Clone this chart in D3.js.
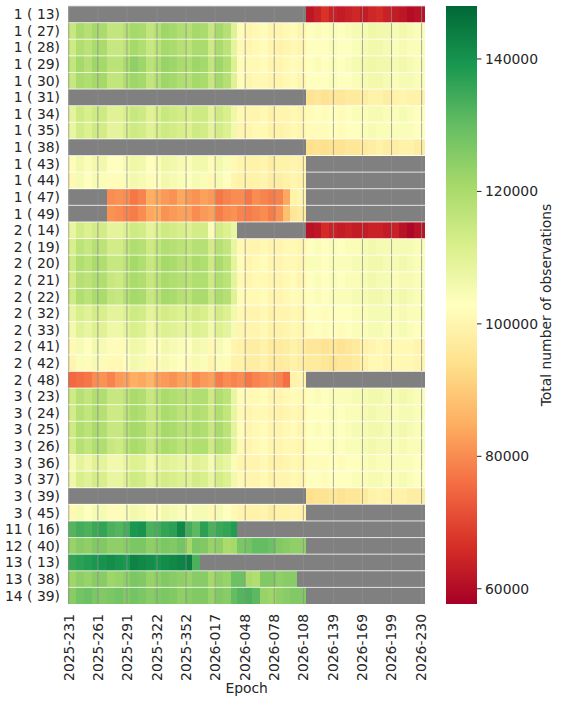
<!DOCTYPE html>
<html><head><meta charset="utf-8">
<script src="https://cdn.jsdelivr.net/npm/d3@7"></script>
<style>
body{margin:0;background:#fff;}
text{font-family:"DejaVu Sans",sans-serif;fill:#262626;}
</style>
</head><body>
<svg id="chart" width="562" height="703"></svg>
<script>
const _ = null;
const rowLabels = ["1 ( 13)","1 ( 27)","1 ( 28)","1 ( 29)","1 ( 30)","1 ( 31)","1 ( 34)","1 ( 35)","1 ( 38)","1 ( 43)","1 ( 44)","1 ( 47)","1 ( 49)",
  "2 ( 14)","2 ( 19)","2 ( 20)","2 ( 21)","2 ( 22)","2 ( 32)","2 ( 33)","2 ( 41)","2 ( 42)","2 ( 48)",
  "3 ( 23)","3 ( 24)","3 ( 25)","3 ( 26)","3 ( 36)","3 ( 37)","3 ( 39)","3 ( 45)",
  "11 ( 16)","12 ( 40)","13 ( 13)","13 ( 38)","14 ( 39)"];
const firstEpoch = "2025-231";
const totalDays = 368;
// bin edges in days after the first epoch
const binEdges = [0,8,16,24,32,40,48,56,64,72,80,88,96,104,112,120,128,136,144,152,160,168,174,182,190,198,206,214,222,229,236,245,253,261,269,277,285,293,301,309,317,325,333,341,349,357,368];
const xTickLabels = ["2025-231","2025-261","2025-291","2025-322","2025-352","2026-017","2026-048","2026-078","2026-108","2026-139","2026-169","2026-199","2026-230"];
const colorTicks = [60000,80000,100000,120000,140000];
const colorMin = 57700, colorMax = 148000;
// total number of observations per bin, in thousands (null = no data)
const obsThousands = [
 [_,_,_,_,_,_,_,_,_,_,_,_,_,_,_,_,_,_,_,_,_,_, _,_,_,_,_,_,_,_,_, 62,64,67,64,63,64,65,63,65,66,64,63,62,60,61],
 [115,120,118,121,120,116,116,118,121,120,116,118,122,121,119,118,121,120,115,121,118,110, 102,100,101,102,100,100,101,102,100, 103,104,103,104,103,104,105,105,107,106,106,105,106,105,104],
 [114,119,117,120,120,115,115,117,121,119,115,117,121,120,118,117,120,120,114,120,117,109, 101,100,101,102,100,99,100,101,100, 103,103,103,104,103,103,104,105,106,106,105,104,105,104,104],
 [116,121,118,122,121,117,117,120,124,122,117,119,123,122,120,119,122,121,116,122,119,111, 102,101,101,102,100,100,101,102,101, 103,104,103,104,103,104,105,106,107,106,106,105,106,105,104],
 [115,120,119,121,121,116,116,119,122,121,116,118,122,121,119,118,121,120,115,121,118,110, 102,100,101,101,100,100,101,102,100, 103,103,103,104,103,103,104,105,106,106,105,104,105,105,104],
 [_,_,_,_,_,_,_,_,_,_,_,_,_,_,_,_,_,_,_,_,_,_, _,_,_,_,_,_,_,_,_, 95,96,95,96,96,97,97,98,99,99,98,99,100,99,99],
 [109,114,112,114,114,110,110,112,115,114,110,112,115,114,113,112,114,114,109,114,112,107, 101,100,100,101,99,100,100,101,100, 102,103,102,103,102,103,104,104,105,105,104,104,105,104,103],
 [108,113,111,114,113,109,109,112,114,113,110,112,114,113,112,111,114,113,109,113,111,106, 100,100,101,101,99,99,100,101,100, 102,102,102,103,102,103,103,104,105,104,104,104,104,104,103],
 [_,_,_,_,_,_,_,_,_,_,_,_,_,_,_,_,_,_,_,_,_,_, _,_,_,_,_,_,_,_,_, 94,95,94,95,95,96,96,97,98,99,98,98,99,99,98],
 [102,106,104,106,106,103,103,105,107,106,103,104,107,106,105,104,106,106,102,106,104,101, 100,99,99,100,98,99,99,100,99, _,_,_,_,_,_,_,_,_,_,_,_,_,_,_],
 [101,105,103,105,104,102,102,104,106,105,102,103,106,105,104,103,105,104,101,105,103,100, 99,99,99,100,98,98,99,100,99, _,_,_,_,_,_,_,_,_,_,_,_,_,_,_],
 [_,_,_,_,_,80,81,80,77,79,85,84,82,81,84,82,81,83,82,77,79,80, 80,77,80,79,78,79,84,99,100, _,_,_,_,_,_,_,_,_,_,_,_,_,_,_],
 [_,_,_,_,_,81,80,79,78,80,84,85,81,82,83,83,80,82,83,78,80,81, 79,78,79,80,78,81,88,96,97, _,_,_,_,_,_,_,_,_,_,_,_,_,_,_],
 [108,113,111,113,113,109,109,111,114,113,109,111,114,113,112,111,113,113,104,113,111,108, _,_,_,_,_,_,_,_,_, 61,62,66,64,63,64,63,63,64,64,63,64,61,59,61],
 [112,117,115,118,117,113,113,116,119,118,114,116,119,118,117,116,118,118,113,118,116,108, 101,100,100,101,100,100,101,101,100, 103,104,103,104,103,104,104,105,106,105,105,105,105,105,104],
 [114,119,117,120,119,115,115,117,121,119,115,117,121,120,118,117,120,119,114,120,117,109, 102,100,101,102,100,100,101,101,100, 104,104,103,104,104,104,105,105,106,106,105,105,106,105,104],
 [113,118,117,119,119,115,114,117,120,119,115,117,120,119,118,117,119,119,114,119,117,109, 101,100,101,101,100,100,101,102,100, 103,104,103,104,103,104,104,105,106,105,105,104,105,105,104],
 [114,119,117,120,120,116,115,118,121,120,115,117,121,120,118,117,120,120,115,120,118,110, 102,101,101,102,100,100,101,102,101, 103,104,103,104,104,104,105,105,106,106,105,105,106,105,104],
 [108,112,110,113,112,109,109,111,114,113,109,111,113,112,111,111,113,112,108,113,111,106, 101,100,100,101,99,100,100,101,100, 103,103,102,103,103,103,104,104,105,105,105,104,105,104,104],
 [106,110,108,111,110,107,107,109,112,111,107,109,111,110,109,108,111,110,106,111,109,105, 100,100,100,101,99,99,100,101,100, 102,103,102,103,102,103,104,104,105,105,104,104,105,104,103],
 [101,105,103,106,105,102,102,104,107,106,102,103,106,105,104,103,106,105,101,105,103,100, 99,98,98,99,97,97,98,99,98, 96,96,95,96,95,96,97,99,100,101,100,101,101,101,100],
 [100,104,102,105,104,101,101,103,106,105,101,102,105,104,103,102,105,104,100,104,102,99, 99,98,98,99,97,97,98,99,98, 97,97,96,95,96,96,97,99,101,101,100,101,101,101,100],
 [75,76,77,80,81,79,82,83,85,84,86,83,82,81,83,84,80,82,83,78,80,79, 80,77,79,80,81,79,76,99,100, _,_,_,_,_,_,_,_,_,_,_,_,_,_,_],
 [114,118,116,119,119,115,115,117,120,119,115,117,120,119,118,117,119,119,114,119,117,108, 102,101,101,102,100,100,101,102,101, 103,104,103,104,104,104,105,105,106,106,105,105,106,105,104],
 [113,118,116,119,118,114,114,117,120,119,115,116,120,119,117,116,119,118,114,119,116,108, 101,100,101,101,100,99,100,101,100, 103,103,103,104,103,104,104,105,106,105,105,104,105,105,104],
 [114,119,117,120,119,115,115,118,121,120,116,117,121,120,118,117,120,119,115,120,117,109, 102,100,101,102,100,100,101,102,100, 103,104,103,104,103,104,105,105,106,106,105,105,106,105,104],
 [113,118,116,119,119,115,114,117,120,119,115,117,120,119,117,117,119,119,114,119,117,109, 101,100,101,102,100,100,101,101,100, 103,103,103,104,103,104,104,105,106,105,105,104,105,104,104],
 [105,109,107,110,109,106,106,108,111,110,106,108,110,109,108,107,110,109,105,110,108,104, 100,100,100,101,99,99,100,101,100, 102,102,102,103,102,103,103,104,105,104,104,104,104,104,103],
 [107,112,110,113,112,108,108,111,114,113,109,111,113,112,111,110,113,112,108,113,111,106, 101,100,100,101,99,100,100,101,100, 103,103,102,103,103,103,104,104,105,105,104,104,105,104,103],
 [_,_,_,_,_,_,_,_,_,_,_,_,_,_,_,_,_,_,_,_,_,_, _,_,_,_,_,_,_,_,_, 94,95,95,96,95,96,96,97,99,100,99,99,99,98,98],
 [101,105,103,105,105,102,102,104,106,105,102,103,106,105,104,103,105,105,101,105,103,101, 100,99,99,100,98,99,99,100,99, _,_,_,_,_,_,_,_,_,_,_,_,_,_,_],
 [132,134,133,135,136,133,132,134,139,140,133,134,136,137,142,134,131,137,133,135,136,138, _,_,_,_,_,_,_,_,_, _,_,_,_,_,_,_,_,_,_,_,_,_,_,_],
 [123,125,124,126,126,124,124,125,127,127,124,125,127,126,128,121,127,126,123,124,120,121, 127,128,130,130,129,126,125,124,124, _,_,_,_,_,_,_,_,_,_,_,_,_,_,_],
 [136,137,138,139,140,141,140,139,143,142,141,140,141,142,143,144,133,_,_,_,_,_, _,_,_,_,_,_,_,_,_, _,_,_,_,_,_,_,_,_,_,_,_,_,_,_],
 [122,124,123,125,125,122,123,124,127,126,123,124,126,125,124,123,125,125,121,124,123,129, 129,120,119,126,126,124,125,125,_, _,_,_,_,_,_,_,_,_,_,_,_,_,_,_],
 [125,128,129,127,126,127,128,126,128,127,125,126,127,126,124,125,126,126,123,126,125,130, 132,133,131,123,122,124,125,126,126, _,_,_,_,_,_,_,_,_,_,_,_,_,_,_]
];

const svg = d3.select("#chart");
const plotLeft = 68.3, plotRight = 425, plotTop = 6, plotBottom = 604;

const x = d3.scaleLinear().domain([0, totalDays]).range([plotLeft, plotRight]);
const y = d3.scaleBand().domain(rowLabels).range([plotTop, plotBottom]).padding(0);

const rdylgn = ["#a50026","#d73027","#f46d43","#fdae61","#fee08b","#ffffbf","#d9ef8b","#a6d96a","#66bd63","#1a9850","#006837"];
const color = d3.scaleLinear()
  .domain(rdylgn.map((c,i)=> colorMin + (colorMax-colorMin)*i/(rdylgn.length-1)))
  .range(rdylgn).clamp(true);

// missing-data background
svg.append("rect").attr("x", plotLeft).attr("y", plotTop).attr("width", plotRight-plotLeft).attr("height", plotBottom-plotTop).attr("fill", "#808080");

const cells = [];
obsThousands.forEach((row, r) => {
  row.forEach((v, b) => {
    if (v !== null && b < binEdges.length-1) cells.push({row: rowLabels[r], b, v: v*1000});
  });
});
svg.append("g").selectAll("rect").data(cells).join("rect")
  .attr("x", d => x(binEdges[d.b]))
  .attr("width", d => x(binEdges[d.b+1]) - x(binEdges[d.b]) + 0.3)
  .attr("y", d => y(d.row))
  .attr("height", y.bandwidth())
  .attr("fill", d => color(d.v))
  .attr("shape-rendering", "crispEdges");

// epoch ticks
function parseEpoch(s){ const [yy, dd] = s.split("-").map(Number); return Date.UTC(yy,0,dd); }
const t0 = parseEpoch(firstEpoch);
const tickDays = xTickLabels.map(s => (parseEpoch(s) - t0)/86400000 + 0.5);

// vertical grid lines at tick positions
svg.append("g").selectAll("line").data(tickDays).join("line")
  .attr("x1", d => x(d)).attr("x2", d => x(d))
  .attr("y1", plotTop).attr("y2", plotBottom)
  .attr("stroke", "#8c8c8c").attr("stroke-opacity", 0.75).attr("stroke-width", 1);

// row separators
svg.append("g").selectAll("line").data(d3.range(0, rowLabels.length)).join("line")
  .attr("x1", plotLeft).attr("x2", plotRight)
  .attr("y1", i => plotTop + i*y.step()).attr("y2", i => plotTop + i*y.step())
  .attr("stroke", i => i === 0 ? "#d8d8d8" : "#ffffff").attr("stroke-opacity", 0.8).attr("stroke-width", 1);

// y labels
svg.append("g").selectAll("text").data(rowLabels).join("text")
  .attr("x", 60).attr("y", d => y(d) + y.bandwidth()/2)
  .attr("dy", "0.35em").attr("text-anchor", "end")
  .attr("font-size", "13.9px").text(d => d);

// x labels
svg.append("g").selectAll("text").data(xTickLabels).join("text")
  .attr("transform", (d,i) => `translate(${x(tickDays[i])},${614}) rotate(-90)`)
  .attr("dy", "0.35em").attr("text-anchor", "end")
  .attr("font-size", "13.9px").text(d => d);

svg.append("text").attr("x", (plotLeft+plotRight)/2).attr("y", 693)
  .attr("text-anchor", "middle").attr("font-size", "13.9px").text("Epoch");

// colorbar
const cbX = 446, cbW = 31;
const cy = d3.scaleLinear().domain([colorMin, colorMax]).range([plotBottom, plotTop]);
const defs = svg.append("defs");
const grad = defs.append("linearGradient").attr("id", "cbgrad")
  .attr("x1", 0).attr("y1", 1).attr("x2", 0).attr("y2", 0);
grad.selectAll("stop").data(rdylgn).join("stop")
  .attr("offset", (d,i) => i/(rdylgn.length-1)).attr("stop-color", d => d);
svg.append("rect").attr("x", cbX).attr("y", plotTop).attr("width", cbW).attr("height", plotBottom-plotTop).attr("fill", "url(#cbgrad)");
const cbAxis = svg.append("g");
cbAxis.selectAll("line").data(colorTicks).join("line")
  .attr("x1", cbX+cbW).attr("x2", cbX+cbW+4.5)
  .attr("y1", d => cy(d)).attr("y2", d => cy(d))
  .attr("stroke", "#262626").attr("stroke-width", 1);
cbAxis.selectAll("text").data(colorTicks).join("text")
  .attr("x", cbX+cbW+8).attr("y", d => cy(d)).attr("dy", "0.35em")
  .attr("font-size", "13.9px").text(d => d);
svg.append("text")
  .attr("transform", `translate(551,305) rotate(-90)`)
  .attr("text-anchor", "middle").attr("font-size", "13.9px")
  .text("Total number of observations");
</script>
</body></html>
